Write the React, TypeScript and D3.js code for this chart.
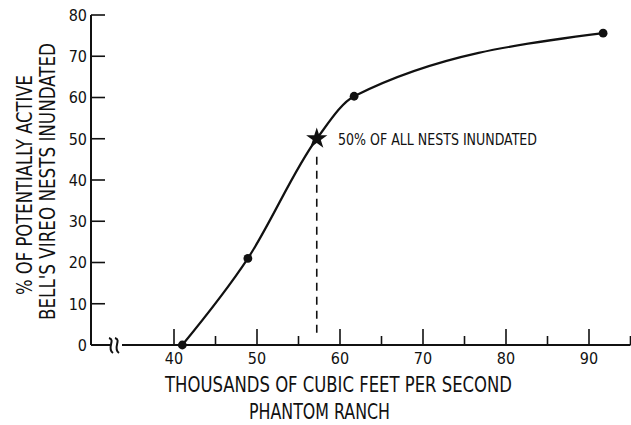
import * as d3 from "d3";
import { useEffect, useRef } from "react";

// flow (thousands cfs) vs % of nests inundated
const flowValues = [41, 48.9, 57.2, 61.7, 91.7];
const pctValues = [0, 21, 50, 60.3, 75.6];
const starFlow = 57.2;
const starPct = 50;

const yTicks = [0, 10, 20, 30, 40, 50, 60, 70, 80];
const xMajorTicks = [40, 50, 60, 70, 80, 90];
const xMinorTicks = [45, 55, 65, 75, 85, 95];

const FONT = "'Liberation Sans Narrow', 'DejaVu Sans Condensed', 'Roboto Condensed', sans-serif";

export default function App() {
  const svgRef = useRef<SVGSVGElement | null>(null);

  useEffect(() => {
    const width = 631;
    const height = 425;
    const axisX = 91;
    const baseY = 345;

    const x = d3.scaleLinear().domain([40, 90]).range([174, 589]);
    const y = d3.scaleLinear().domain([0, 80]).range([baseY, 15]);

    const svg = d3.select(svgRef.current);
    svg.selectAll("*").remove();
    svg.attr("width", width).attr("height", height);

    svg.append("rect").attr("width", width).attr("height", height).attr("fill", "#fff");

    const g = svg.append("g").attr("font-family", FONT).attr("fill", "#111");

    // Y axis line + ticks (inside)
    g.append("line")
      .attr("x1", axisX).attr("x2", axisX)
      .attr("y1", y(80)).attr("y2", baseY)
      .attr("stroke", "#111").attr("stroke-width", 2);

    g.selectAll("line.ytick")
      .data(yTicks.filter(d => d > 0))
      .enter()
      .append("line")
      .attr("class", "ytick")
      .attr("x1", axisX).attr("x2", axisX + 14)
      .attr("y1", d => y(d)).attr("y2", d => y(d))
      .attr("stroke", "#111").attr("stroke-width", 1.6);

    g.selectAll("text.ylab")
      .data(yTicks)
      .enter()
      .append("text")
      .attr("class", "ylab")
      .attr("x", axisX - 4)
      .attr("y", d => y(d))
      .attr("dy", "0.36em")
      .attr("text-anchor", "end")
      .attr("font-size", 16)
      .text(d => d);

    // X axis with break
    g.append("line")
      .attr("x1", axisX).attr("x2", 110)
      .attr("y1", baseY).attr("y2", baseY)
      .attr("stroke", "#111").attr("stroke-width", 2);
    g.append("line")
      .attr("x1", 122).attr("x2", x(95))
      .attr("y1", baseY).attr("y2", baseY)
      .attr("stroke", "#111").attr("stroke-width", 2);

    [110, 116].forEach(bx => {
      g.append("path")
        .attr("d", `M${bx - 1},${baseY - 7} C${bx + 6},${baseY - 5} ${bx - 4},${baseY + 3} ${bx + 3},${baseY + 8}`)
        .attr("fill", "none").attr("stroke", "#111").attr("stroke-width", 2);
    });

    g.selectAll("line.xmajor")
      .data(xMajorTicks)
      .enter()
      .append("line")
      .attr("class", "xmajor")
      .attr("x1", d => x(d)).attr("x2", d => x(d))
      .attr("y1", baseY).attr("y2", baseY - 16)
      .attr("stroke", "#111").attr("stroke-width", 1.6);

    g.selectAll("line.xminor")
      .data(xMinorTicks)
      .enter()
      .append("line")
      .attr("class", "xminor")
      .attr("x1", d => x(d)).attr("x2", d => x(d))
      .attr("y1", baseY).attr("y2", baseY - 9)
      .attr("stroke", "#111").attr("stroke-width", 1.6);

    g.selectAll("text.xlab")
      .data(xMajorTicks)
      .enter()
      .append("text")
      .attr("class", "xlab")
      .attr("x", d => x(d))
      .attr("y", 364)
      .attr("text-anchor", "middle")
      .attr("font-size", 16)
      .text(d => d);

    // Axis titles (condensed lettering)
    const title = (tx: number, ty: number, rot: number, len: number, txt: string) =>
      g.append("text")
        .attr("transform", `translate(${tx},${ty}) rotate(${rot})`)
        .attr("x", -len / 2)
        .attr("font-size", 21)
        .attr("textLength", len)
        .attr("lengthAdjust", "spacingAndGlyphs")
        .text(txt);

    title(165 + 347 / 2, 392, 0, 347, "THOUSANDS OF CUBIC FEET PER SECOND");
    title(249 + 141 / 2, 419, 0, 141, "PHANTOM RANCH");
    title(32, 185, -90, 220, "% OF POTENTIALLY ACTIVE");
    title(55, 181.5, -90, 277, "BELL'S VIREO NESTS INUNDATED");

    // Curve
    const pts = flowValues.map((f, i) => [f, pctValues[i]] as [number, number]);
    const line = d3.line<[number, number]>()
      .x(d => x(d[0]))
      .y(d => y(d[1]))
      .curve(d3.curveMonotoneX);

    g.append("path")
      .datum(pts)
      .attr("d", line)
      .attr("fill", "none")
      .attr("stroke", "#111")
      .attr("stroke-width", 2.2);

    // Dashed drop line from star
    g.append("line")
      .attr("x1", x(starFlow)).attr("x2", x(starFlow))
      .attr("y1", y(starPct) + 18).attr("y2", baseY - 8)
      .attr("stroke", "#111").attr("stroke-width", 1.6)
      .attr("stroke-dasharray", "8,6");

    // Dots (skip the star point)
    g.selectAll("circle.pt")
      .data(pts.filter(d => d[0] !== starFlow))
      .enter()
      .append("circle")
      .attr("class", "pt")
      .attr("cx", d => x(d[0]))
      .attr("cy", d => y(d[1]))
      .attr("r", 4.4)
      .attr("fill", "#111");

    g.append("path")
      .attr("d", d3.symbol(d3.symbolStar, 140)())
      .attr("transform", `translate(${x(starFlow)},${y(starPct)})`)
      .attr("fill", "#111");

    g.append("text")
      .attr("x", 338).attr("y", y(starPct))
      .attr("dy", "0.36em")
      .attr("font-size", 16)
      .attr("textLength", 199)
      .attr("lengthAdjust", "spacingAndGlyphs")
      .text("50% OF ALL NESTS INUNDATED");
  }, []);

  return (
    <div>
      <svg ref={svgRef} style={{ position: "absolute", left: 0, top: 0, display: "block" }} />
    </div>
  );
}
